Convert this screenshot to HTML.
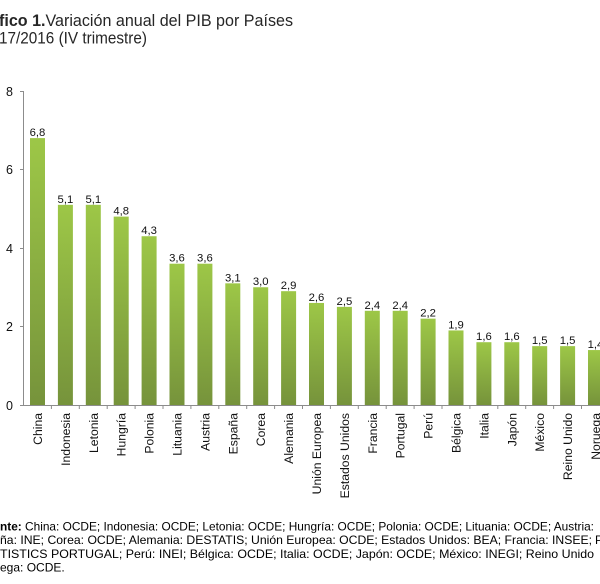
<!DOCTYPE html>
<html><head><meta charset="utf-8"><style>
html,body{margin:0;padding:0;background:#fff;width:600px;height:584px;overflow:hidden}
svg{display:block}
text{font-family:"Liberation Sans",Arial,sans-serif}
</style></head><body>
<svg width="600" height="584" viewBox="0 0 600 584" xmlns="http://www.w3.org/2000/svg">
<defs>
<linearGradient id="g" x1="0" y1="0" x2="0" y2="1">
<stop offset="0" stop-color="#9dc747"/>
<stop offset="1" stop-color="#76933b"/>
</linearGradient>
</defs>
<text x="-1" y="26" font-size="16.5" fill="#262626" textLength="294" lengthAdjust="spacingAndGlyphs"><tspan font-weight="bold">fico 1.</tspan><tspan>Variación anual del PIB por Países</tspan></text>
<text x="-1" y="43.5" font-size="16.5" fill="#262626" textLength="148" lengthAdjust="spacingAndGlyphs">17/2016 (IV trimestre)</text>

<g stroke="#8c8c8c" stroke-width="1" fill="none">
<line x1="23.5" y1="91" x2="23.5" y2="405"/>
<line x1="20" y1="91.5" x2="23.5" y2="91.5"/>
<line x1="20" y1="169.5" x2="23.5" y2="169.5"/>
<line x1="20" y1="248.5" x2="23.5" y2="248.5"/>
<line x1="20" y1="326.5" x2="23.5" y2="326.5"/>
</g>
<g font-size="12.5" fill="#111" text-anchor="end">
<text x="13" y="96">8</text>
<text x="13" y="174">6</text>
<text x="13" y="253">4</text>
<text x="13" y="331">2</text>
<text x="13" y="410">0</text>
</g>

<g fill="url(#g)">
<rect x="30" y="138.1" width="15" height="266.9"/>
<rect x="57.9" y="204.83" width="15" height="200.17"/>
<rect x="85.8" y="204.83" width="15" height="200.17"/>
<rect x="113.7" y="216.6" width="15" height="188.4"/>
<rect x="141.6" y="236.23" width="15" height="168.77"/>
<rect x="169.5" y="263.7" width="15" height="141.3"/>
<rect x="197.4" y="263.7" width="15" height="141.3"/>
<rect x="225.3" y="283.33" width="15" height="121.67"/>
<rect x="253.2" y="287.25" width="15" height="117.75"/>
<rect x="281.1" y="291.18" width="15" height="113.82"/>
<rect x="309" y="302.95" width="15" height="102.05"/>
<rect x="336.9" y="306.88" width="15" height="98.12"/>
<rect x="364.8" y="310.8" width="15" height="94.2"/>
<rect x="392.7" y="310.8" width="15" height="94.2"/>
<rect x="420.6" y="318.65" width="15" height="86.35"/>
<rect x="448.5" y="330.43" width="15" height="74.57"/>
<rect x="476.4" y="342.2" width="15" height="62.8"/>
<rect x="504.3" y="342.2" width="15" height="62.8"/>
<rect x="532.2" y="346.13" width="15" height="58.87"/>
<rect x="560.1" y="346.13" width="15" height="58.87"/>
<rect x="588" y="350.05" width="15" height="54.95"/>
</g>

<g stroke="#8c8c8c" stroke-width="1">
<line x1="20" y1="405.5" x2="600" y2="405.5"/>
<line x1="51.4" y1="405" x2="51.4" y2="409"/>
<line x1="79.3" y1="405" x2="79.3" y2="409"/>
<line x1="107.2" y1="405" x2="107.2" y2="409"/>
<line x1="135.1" y1="405" x2="135.1" y2="409"/>
<line x1="163" y1="405" x2="163" y2="409"/>
<line x1="190.9" y1="405" x2="190.9" y2="409"/>
<line x1="218.8" y1="405" x2="218.8" y2="409"/>
<line x1="246.7" y1="405" x2="246.7" y2="409"/>
<line x1="274.6" y1="405" x2="274.6" y2="409"/>
<line x1="302.5" y1="405" x2="302.5" y2="409"/>
<line x1="330.4" y1="405" x2="330.4" y2="409"/>
<line x1="358.3" y1="405" x2="358.3" y2="409"/>
<line x1="386.2" y1="405" x2="386.2" y2="409"/>
<line x1="414.1" y1="405" x2="414.1" y2="409"/>
<line x1="442" y1="405" x2="442" y2="409"/>
<line x1="469.9" y1="405" x2="469.9" y2="409"/>
<line x1="497.8" y1="405" x2="497.8" y2="409"/>
<line x1="525.7" y1="405" x2="525.7" y2="409"/>
<line x1="553.6" y1="405" x2="553.6" y2="409"/>
<line x1="581.5" y1="405" x2="581.5" y2="409"/>
</g>

<g font-size="11.3" fill="#111" text-anchor="middle">
<text x="37.5" y="136.1">6,8</text>
<text x="65.4" y="202.8">5,1</text>
<text x="93.3" y="202.8">5,1</text>
<text x="121.2" y="214.6">4,8</text>
<text x="149.1" y="234.2">4,3</text>
<text x="177" y="261.7">3,6</text>
<text x="204.9" y="261.7">3,6</text>
<text x="232.8" y="281.3">3,1</text>
<text x="260.7" y="285.2">3,0</text>
<text x="288.6" y="289.2">2,9</text>
<text x="316.5" y="300.9">2,6</text>
<text x="344.4" y="304.9">2,5</text>
<text x="372.3" y="308.8">2,4</text>
<text x="400.2" y="308.8">2,4</text>
<text x="428.1" y="316.6">2,2</text>
<text x="456" y="328.4">1,9</text>
<text x="483.9" y="340.2">1,6</text>
<text x="511.8" y="340.2">1,6</text>
<text x="539.7" y="344.1">1,5</text>
<text x="567.6" y="344.1">1,5</text>
<text x="595.5" y="348">1,4</text>
</g>

<g font-size="12.2" fill="#111" text-anchor="end">
<text transform="translate(42,413) rotate(-90)">China</text>
<text transform="translate(69.9,413) rotate(-90)">Indonesia</text>
<text transform="translate(97.8,413) rotate(-90)">Letonia</text>
<text transform="translate(125.7,413) rotate(-90)">Hungría</text>
<text transform="translate(153.6,413) rotate(-90)">Polonia</text>
<text transform="translate(181.5,413) rotate(-90)">Lituania</text>
<text transform="translate(209.4,413) rotate(-90)">Austria</text>
<text transform="translate(237.3,413) rotate(-90)">España</text>
<text transform="translate(265.2,413) rotate(-90)">Corea</text>
<text transform="translate(293.1,413) rotate(-90)">Alemania</text>
<text transform="translate(321,413) rotate(-90)">Unión Europea</text>
<text transform="translate(348.9,413) rotate(-90)">Estados Unidos</text>
<text transform="translate(376.8,413) rotate(-90)">Francia</text>
<text transform="translate(404.7,413) rotate(-90)">Portugal</text>
<text transform="translate(432.6,413) rotate(-90)">Perú</text>
<text transform="translate(460.5,413) rotate(-90)">Bélgica</text>
<text transform="translate(488.4,413) rotate(-90)">Italia</text>
<text transform="translate(516.3,413) rotate(-90)">Japón</text>
<text transform="translate(544.2,413) rotate(-90)">México</text>
<text transform="translate(572.1,413) rotate(-90)">Reino Unido</text>
<text transform="translate(600,413) rotate(-90)">Noruega</text>
</g>

<g font-size="12" fill="#000">
<text x="0" y="530.5" textLength="594" lengthAdjust="spacingAndGlyphs"><tspan font-weight="bold">nte:</tspan> China: OCDE; Indonesia: OCDE; Letonia: OCDE; Hungría: OCDE; Polonia: OCDE; Lituania: OCDE; Austria:</text>
<text x="0" y="544" textLength="592" lengthAdjust="spacingAndGlyphs">ña: INE; Corea: OCDE; Alemania: DESTATIS; Unión Europea: OCDE; Estados Unidos: BEA; Francia: INSEE;</text>
<text x="595" y="544">Po</text>
<text x="0" y="558" textLength="594" lengthAdjust="spacingAndGlyphs">TISTICS PORTUGAL; Perú: INEI; Bélgica: OCDE; Italia: OCDE; Japón: OCDE; México: INEGI; Reino Unido</text>
<text x="0" y="571.5">ega: OCDE.</text>
</g>
</svg>
</body></html>
